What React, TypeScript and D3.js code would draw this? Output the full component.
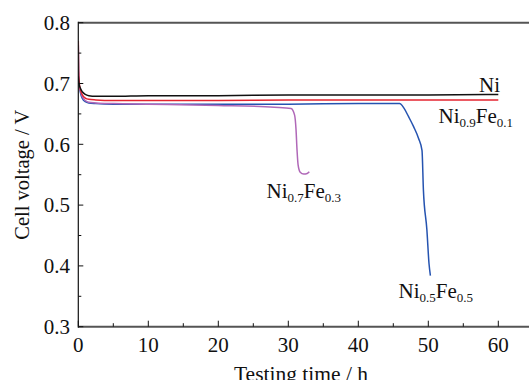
import React from "react";
import * as d3 from "d3";

const niTime = [0, 0.1, 0.3, 0.6, 1.0, 1.5, 2.5, 5, 10, 20, 30, 40, 50, 60];
const niV = [0.712, 0.7, 0.692, 0.686, 0.682, 0.68, 0.679, 0.679, 0.68, 0.68, 0.681, 0.681, 0.681, 0.682];

const ni91Time = [0, 0.05, 0.1, 0.3, 0.6, 1.0, 1.5, 2.5, 5, 10, 20, 30, 40, 50, 60];
const ni91V = [0.77, 0.72, 0.705, 0.69, 0.681, 0.676, 0.674, 0.673, 0.672, 0.672, 0.672, 0.673, 0.673, 0.673, 0.673];

const ni55Time = [0, 0.05, 0.1, 0.3, 0.6, 1, 1.5, 2.5, 5, 10, 20, 30, 40, 45.9, 46.5, 47.2, 47.9, 48.6, 49.1, 49.3, 49.8, 50.1, 50.3];
const ni55V = [0.763, 0.72, 0.7, 0.685, 0.675, 0.67, 0.668, 0.667, 0.666, 0.666, 0.666, 0.666, 0.667, 0.667, 0.66, 0.645, 0.629, 0.61, 0.59, 0.525, 0.459, 0.404, 0.384];

const ni73Time = [0, 0.1, 0.3, 0.6, 1, 1.5, 2.5, 5, 10, 20, 28, 30.4, 30.9, 31.1, 31.25, 31.4, 31.7, 32.2, 32.7, 33];
const ni73V = [0.722, 0.7, 0.688, 0.678, 0.672, 0.669, 0.668, 0.667, 0.666, 0.664, 0.661, 0.659, 0.648, 0.625, 0.59, 0.566, 0.554, 0.551, 0.552, 0.555];

const xMajorTicks = [0, 10, 20, 30, 40, 50, 60];
const xMinorTicks = [5, 15, 25, 35, 45, 55];
const yMajorTicks = [0.3, 0.4, 0.5, 0.6, 0.7, 0.8];
const yMinorTicks = [0.35, 0.45, 0.55, 0.65, 0.75];

const FONT = '"Liberation Serif", "Times New Roman", serif';

export default function App() {
  const W = 529;
  const H = 380;
  const left = 78.3;
  const top = 22.7;
  const bottom = 326.7;
  const x = d3.scaleLinear().domain([0, 65]).range([left, left + 455]);
  const y = d3.scaleLinear().domain([0.3, 0.8]).range([bottom, top]);

  const line = (ts: number[], vs: number[]) =>
    d3
      .line<number>()
      .x((_, i) => x(ts[i]))
      .y((v) => y(v))
      .curve(d3.curveMonotoneX)(vs) as string;

  const series = [
    { t: ni55Time, v: ni55V, color: "#2553b0" },
    { t: ni73Time, v: ni73V, color: "#b068b8" },
    { t: ni91Time, v: ni91V, color: "#e52530" },
    { t: niTime, v: niV, color: "#111111" },
  ];

  const sub = 13;
  const subDy = 4;

  return (
    <svg
      width={W}
      height={H}
      style={{ position: "absolute", left: 0, top: 0, background: "#fff" }}
      fontFamily={FONT}
    >
      <rect width={W} height={H} fill="#fff" />
      <defs>
        <clipPath id="plot">
          <rect x={left} y={top - 30} width={W - left} height={bottom - top + 30} />
        </clipPath>
      </defs>
      <g clipPath="url(#plot)">
        {series.map((s, i) => (
          <path key={i} d={line(s.t, s.v)} fill="none" stroke={s.color} strokeWidth={1.5} />
        ))}
      </g>

      {/* frame */}
      <line x1={left} x2={W} y1={top} y2={top} stroke="#555" strokeWidth={2} />
      <line x1={left} x2={W} y1={bottom} y2={bottom} stroke="#555" strokeWidth={2} />
      <line x1={left} x2={left} y1={top - 1} y2={bottom + 1} stroke="#111" strokeWidth={1.2} />

      {/* x ticks */}
      {xMajorTicks.map((t) => (
        <g key={"xm" + t}>
          <line x1={x(t)} x2={x(t)} y1={bottom} y2={bottom - 6} stroke="#111" strokeWidth={1} />
          <text x={x(t)} y={351.5} textAnchor="middle" fontSize={21} fill="#111">
            {t}
          </text>
        </g>
      ))}
      {xMinorTicks.map((t) => (
        <line key={"xn" + t} x1={x(t)} x2={x(t)} y1={bottom} y2={bottom - 3.5} stroke="#111" strokeWidth={1} />
      ))}

      {/* y ticks */}
      {yMajorTicks.map((v) => (
        <g key={"ym" + v}>
          <line x1={left} x2={left + 5} y1={y(v)} y2={y(v)} stroke="#111" strokeWidth={1} />
          <text x={70} y={y(v) + 7.3} textAnchor="end" fontSize={21} fill="#111">
            {v.toFixed(1)}
          </text>
        </g>
      ))}
      {yMinorTicks.map((v) => (
        <line key={"yn" + v} x1={left} x2={left + 3} y1={y(v)} y2={y(v)} stroke="#111" strokeWidth={1} />
      ))}

      {/* axis titles */}
      <text
        transform={`translate(28.5, ${(top + bottom) / 2}) rotate(-90)`}
        textAnchor="middle"
        fontSize={20.5}
        fill="#111"
      >
        Cell voltage / V
      </text>
      <text x={301} y={380.5} textAnchor="middle" fontSize={21.5} fill="#111">
        Testing time / h
      </text>

      {/* series labels */}
      <text x={479} y={91.5} fontSize={21} fill="#111">
        Ni
      </text>
      <text x={438.5} y={123} fontSize={21} fill="#111">
        <tspan>Ni</tspan>
        <tspan fontSize={sub} dy={subDy}>0.9</tspan>
        <tspan dy={-subDy}>Fe</tspan>
        <tspan fontSize={sub} dy={subDy}>0.1</tspan>
      </text>
      <text x={266.5} y={198} fontSize={21} fill="#111">
        <tspan>Ni</tspan>
        <tspan fontSize={sub} dy={subDy}>0.7</tspan>
        <tspan dy={-subDy}>Fe</tspan>
        <tspan fontSize={sub} dy={subDy}>0.3</tspan>
      </text>
      <text x={398.5} y={298} fontSize={21} fill="#111">
        <tspan>Ni</tspan>
        <tspan fontSize={sub} dy={subDy}>0.5</tspan>
        <tspan dy={-subDy}>Fe</tspan>
        <tspan fontSize={sub} dy={subDy}>0.5</tspan>
      </text>
    </svg>
  );
}
